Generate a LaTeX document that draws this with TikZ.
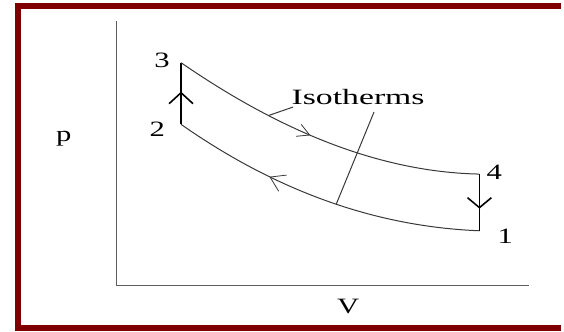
\documentclass[tikz,border=0pt]{standalone}
\usepackage{fontspec}
\setmainfont{Liberation Serif}
\usetikzlibrary{arrows.meta, decorations.markings, calc}
\definecolor{framered}{HTML}{800000}
\definecolor{axisgray}{HTML}{5E5E5E}
\definecolor{curvegray}{HTML}{383838}

\begin{document}
\begin{tikzpicture}[x=0.5pt, y=-0.5pt,
  lbl/.style={font=\fontsize{11}{13}\selectfont, inner sep=0pt, anchor=base, xscale=1.4},
  isotherm/.style={draw=curvegray, line width=0.5pt},
  side/.style={draw=black, line width=0.8pt},
  midarrow/.style 2 args={postaction={decorate},
    decoration={markings, mark=at position #1 with {\arrow{#2}}}}]
  \fill[white] (0,0) rectangle (564,333);
  \draw[framered, line width=3pt] (564,6) -- (18,6) -- (18,330) -- (564,330);

  \coordinate (o) at (117,287);
  \draw[axisgray, line width=0.8pt] (117,21) -- (o) -- (532,287);
  \node[lbl] (p) at (64,142) {p};
  \node[lbl] (v) at (350,315) {V};

  \coordinate (c1) at (482,232);
  \coordinate (c2) at (182,125);
  \coordinate (c3) at (182,63);
  \coordinate (c4) at (482,175);

  \draw[side, midarrow={0.53}{Straight Barb[length=5.5pt, width=12pt]}] (c2) -- (c3);
  \draw[side, midarrow={0.61}{Straight Barb[length=5pt, width=12pt]}] (c4) -- (c1);
  \draw[isotherm, midarrow={0.46}{Straight Barb[length=6pt, width=6.5pt, line width=0.4pt]}]
    (c3) .. controls (282,132) and (382,173) .. coordinate[pos=0.293] (u) (c4);
  \draw[isotherm, midarrow={0.68}{Straight Barb[length=7pt, width=9pt, line width=0.4pt]}]
    (c1) .. controls (382,228) and (282,195) .. coordinate[pos=0.48] (w) (c2);

  \node[lbl] (n1) at (508,245) {1};
  \node[lbl] (n2) at (158,137) {2};
  \node[lbl] (n3) at (163,68) {3};
  \node[lbl] (n4) at (497,180) {4};

  \node[lbl, xscale=1.1] (iso) at (360,105) {Isotherms};
  \draw[isotherm] ($(iso.south west)+(2,2)$) -- (u);
  \draw[isotherm] ($(iso.south)+(16,7)$) -- (w);
\end{tikzpicture}
\end{document}
